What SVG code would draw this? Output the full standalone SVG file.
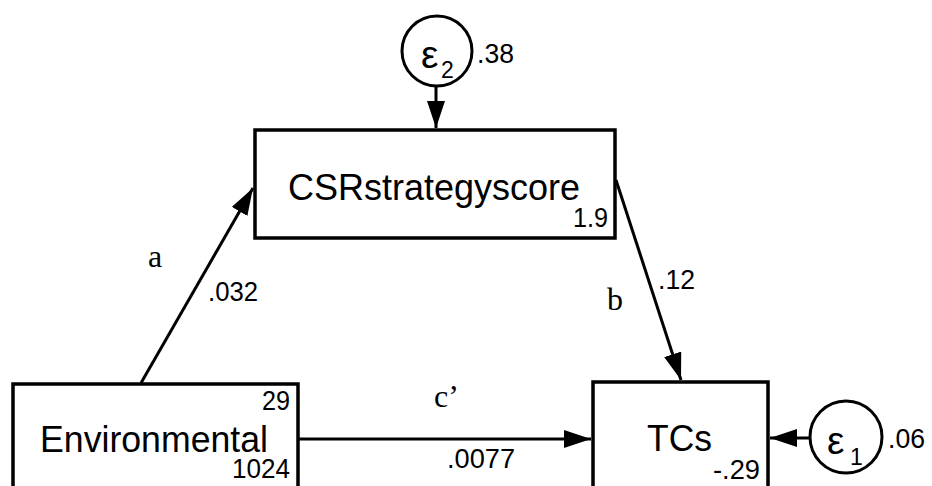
<svg xmlns="http://www.w3.org/2000/svg" width="932" height="486" viewBox="0 0 932 486">
<defs>
<style>
.box{fill:#fff;stroke:#000;stroke-width:3.5}
.circ{fill:#fff;stroke:#000;stroke-width:3}
.ln{stroke:#000;stroke-width:3;fill:none}
.big{font-family:"Liberation Sans",Arial,sans-serif;font-size:37px;fill:#000}
.sm{font-family:"Liberation Sans",Arial,sans-serif;font-size:27px;fill:#000}
.eps{font-family:"Liberation Sans",Arial,sans-serif;font-size:39px;fill:#000}
.sub{font-family:"Liberation Sans",Arial,sans-serif;font-size:23px;fill:#000}
.ser{font-family:"Liberation Serif","Times New Roman",serif;font-size:32px;fill:#000}
</style>
<marker id="ah" markerWidth="9" markerHeight="6" refX="9" refY="3" orient="auto" markerUnits="strokeWidth">
<path d="M0,0 L9,3 L0,6 Z" fill="#000"/>
</marker>
</defs>
<rect width="932" height="486" fill="#fff"/>
<g id="connectors">
<line class="ln" x1="436" y1="86" x2="436" y2="128" marker-end="url(#ah)"/>
<line class="ln" x1="141" y1="383" x2="253" y2="188" marker-end="url(#ah)"/>
<line class="ln" x1="616" y1="180" x2="681" y2="380" marker-end="url(#ah)"/>
<line class="ln" x1="298" y1="439" x2="591" y2="439" marker-end="url(#ah)"/>
<line class="ln" x1="810" y1="438" x2="770" y2="438" marker-end="url(#ah)"/>
<text class="ser" x="148" y="267">a</text>
<text class="sm" x="208" y="301" textLength="50" lengthAdjust="spacingAndGlyphs">.032</text>
<text class="ser" x="607" y="310">b</text>
<text class="sm" x="658" y="289" textLength="37" lengthAdjust="spacingAndGlyphs">.12</text>
<text class="ser" x="434" y="407">c’</text>
<text class="sm" x="447" y="468" textLength="68" lengthAdjust="spacingAndGlyphs">.0077</text>
</g>
<g id="e2">
<circle class="circ" cx="437" cy="51" r="35"/>
<text class="eps" x="421" y="68">ε</text>
<text class="sub" x="441" y="78">2</text>
<text class="sm" x="477" y="63" textLength="37" lengthAdjust="spacingAndGlyphs">.38</text>
</g>
<g id="csr">
<rect class="box" x="255" y="130" width="360" height="108"/>
<text class="big" x="288" y="200" textLength="292" lengthAdjust="spacingAndGlyphs">CSRstrategyscore</text>
<text class="sm" x="573" y="227" textLength="35" lengthAdjust="spacingAndGlyphs">1.9</text>
</g>
<g id="env">
<rect class="box" x="13" y="384" width="285" height="120"/>
<text class="big" x="40" y="452" textLength="228" lengthAdjust="spacingAndGlyphs">Environmental</text>
<text class="sm" x="262" y="410" textLength="28" lengthAdjust="spacingAndGlyphs">29</text>
<text class="sm" x="232" y="478" textLength="58" lengthAdjust="spacingAndGlyphs">1024</text>
</g>
<g id="tcs">
<rect class="box" x="593" y="382" width="175" height="122"/>
<text class="big" x="647" y="451" textLength="65" lengthAdjust="spacingAndGlyphs">TCs</text>
<text class="sm" x="713" y="479" textLength="47" lengthAdjust="spacingAndGlyphs">-.29</text>
</g>
<g id="e1">
<circle class="circ" cx="846" cy="437" r="36"/>
<text class="eps" x="827" y="454">ε</text>
<text class="sub" x="850" y="465">1</text>
<text class="sm" x="888" y="448" textLength="37" lengthAdjust="spacingAndGlyphs">.06</text>
</g>
</svg>
